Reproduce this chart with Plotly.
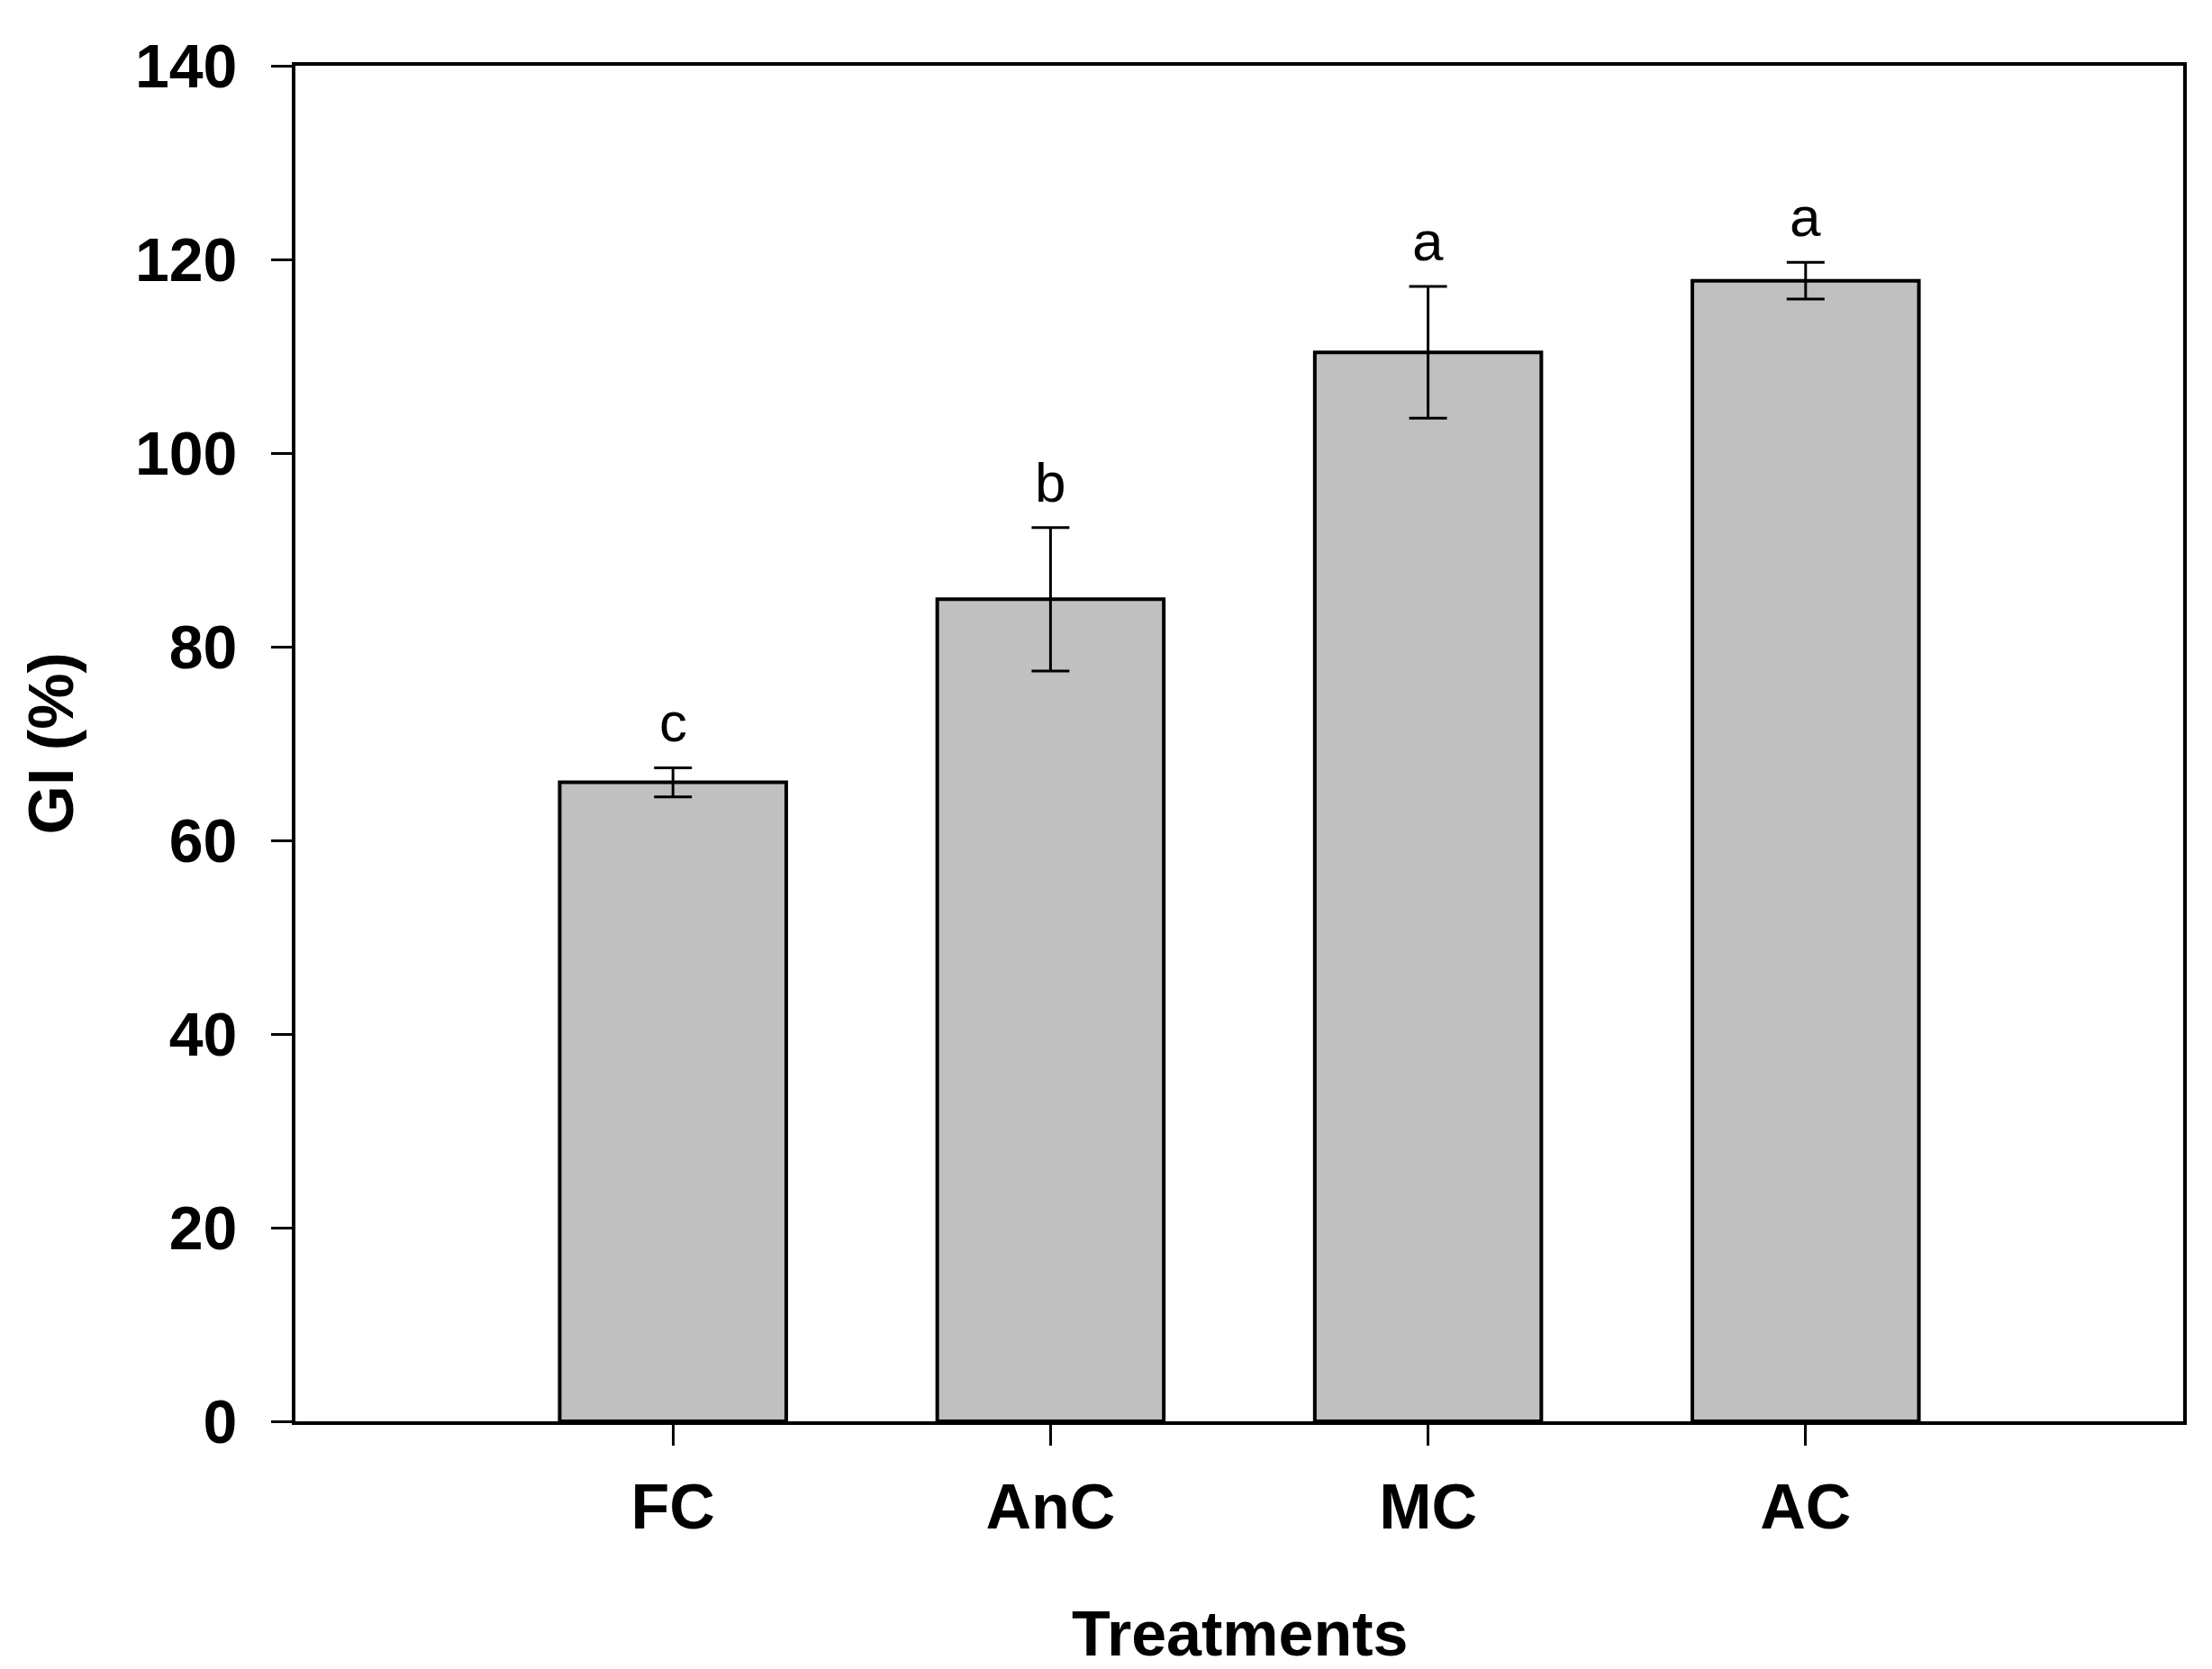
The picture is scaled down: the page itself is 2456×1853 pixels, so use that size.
import plotly.graph_objects as go

categories = ["FC", "AnC", "MC", "AC"]
gi_values = [66.0, 84.9, 110.4, 117.8]
gi_errors = [1.5, 7.4, 6.8, 1.9]
letters = ["c", "b", "a", "a"]
y_ticks = [0, 20, 40, 60, 80, 100, 120, 140]

W, H = 2456, 1853
L, R, T, B = 320, 40, 65, 283
FONT = "Liberation Sans, Arial, sans-serif"

fig = go.Figure()
fig.add_trace(go.Bar(
    x=categories, y=gi_values, width=0.6,
    marker=dict(color="#c0c0c0", line=dict(color="black", width=4)),
    error_y=dict(type="data", array=gi_errors, visible=True,
                 color="black", thickness=3, width=21),
    showlegend=False,
))

letter_offset = 4.7
for c, v, e, t in zip(categories, gi_values, gi_errors, letters):
    fig.add_annotation(x=c, y=v + e + letter_offset, xref="x", yref="y",
                       text=t, showarrow=False, yanchor="middle",
                       font=dict(family=FONT, size=62, color="black"))

# axis titles
plot_h = H - T - B
plot_w = W - L - R
fig.add_annotation(text="<b>Treatments</b>", xref="paper", yref="paper",
                   x=0.5, y=-(1806 - (H - B)) / plot_h, showarrow=False,
                   yanchor="middle", xanchor="center",
                   font=dict(family=FONT, size=70, color="black"))
fig.add_annotation(text="<b>GI (%)</b>", xref="paper", yref="paper",
                   x=(48 - L) / plot_w, y=0.5, showarrow=False, textangle=-90,
                   yanchor="middle", xanchor="center",
                   font=dict(family=FONT, size=70, color="black"))

fig.update_layout(
    width=W, height=H,
    margin=dict(l=L, r=R, t=T, b=B),
    paper_bgcolor="white", plot_bgcolor="white",
    font=dict(family=FONT, color="black"),
    bargap=0.4,
)
fig.update_xaxes(
    type="category", range=[-1, 4],
    showline=True, linecolor="black", linewidth=4, mirror=True,
    ticks="outside", ticklen=23, tickwidth=3, tickcolor="black",
    showgrid=False, zeroline=False,
    tickfont=dict(family=FONT, size=70, color="black"),
    ticklabelstandoff=8,
    tickvals=categories,
    ticktext=["<b>" + c + "</b>" for c in categories],
)
fig.update_yaxes(
    range=[0, 140],
    showline=True, linecolor="black", linewidth=4, mirror=True,
    ticks="outside", ticklen=23, tickwidth=3, tickcolor="black",
    showgrid=False, zeroline=False,
    tickvals=y_ticks,
    ticktext=["<b>%d</b>" % v for v in y_ticks],
    tickfont=dict(family=FONT, size=68, color="black"),
    ticklabelstandoff=24,
)

fig.write_html("out.html")
